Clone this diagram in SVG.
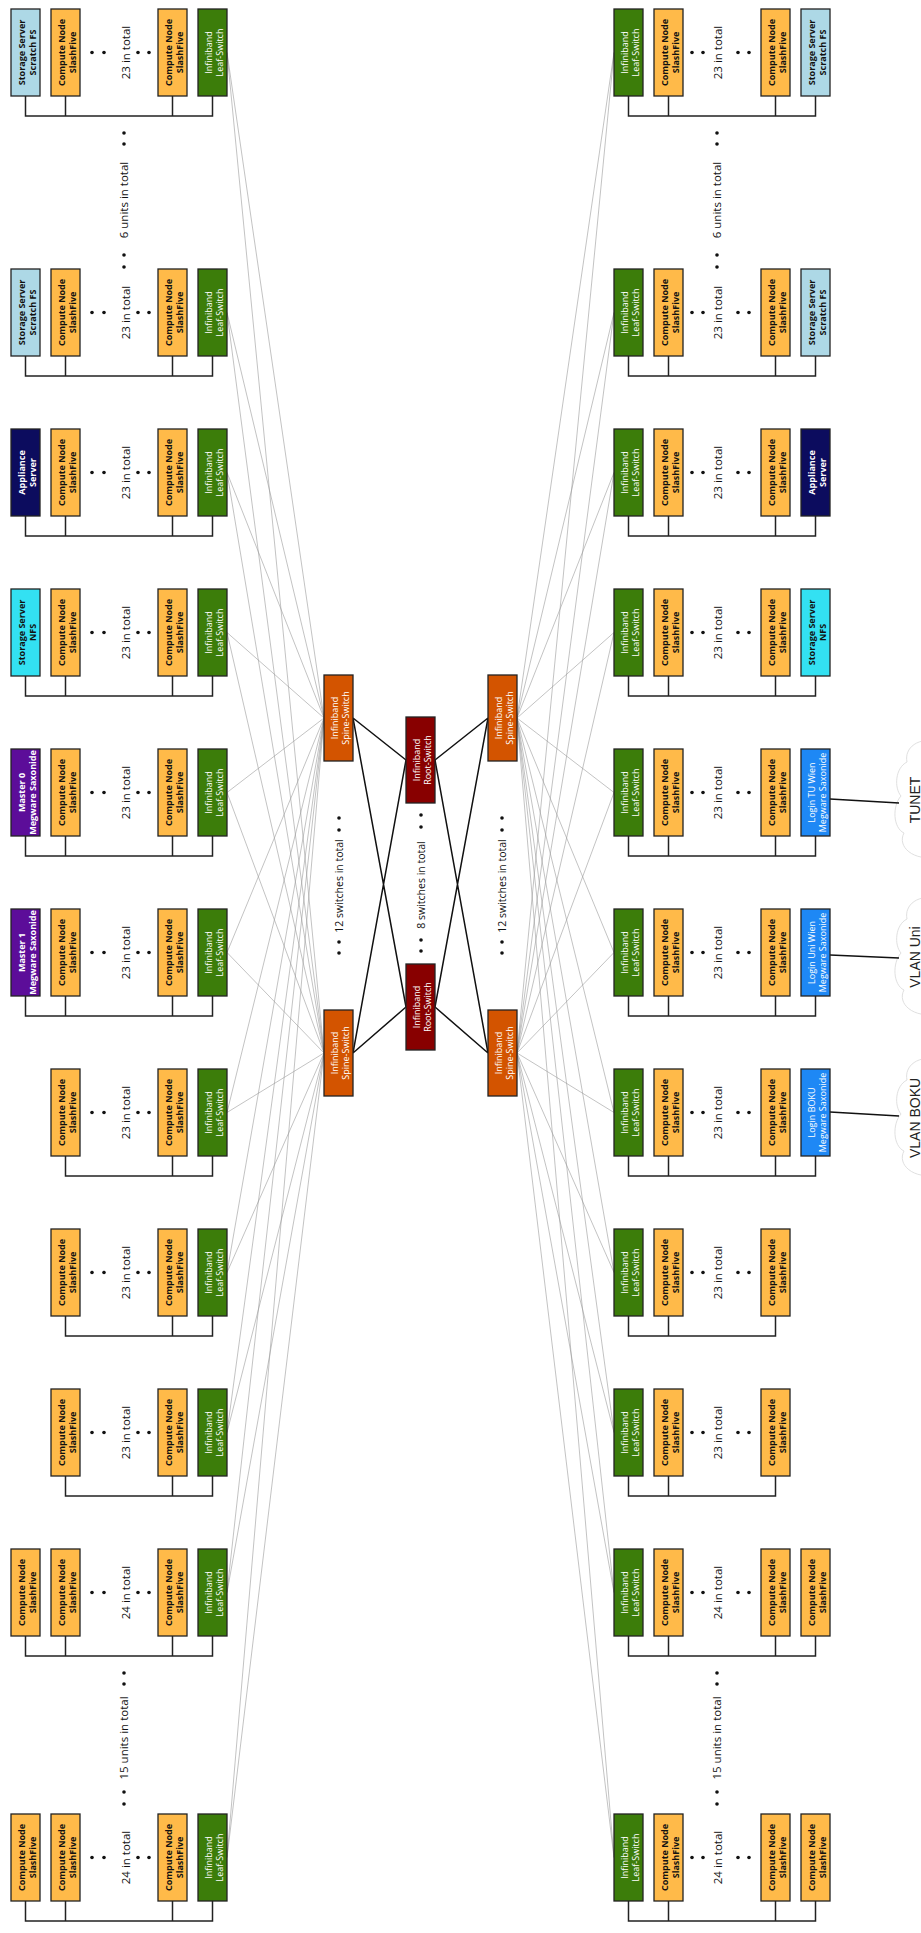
<svg xmlns="http://www.w3.org/2000/svg" xmlns:xlink="http://www.w3.org/1999/xlink" width="921" height="1933" viewBox="0 0 921 1933">
<style>
.b{stroke:#222;stroke-width:1.3}
.t{font-family:"Open Sans","DejaVu Sans",sans-serif;font-size:9px;text-anchor:middle}
.td{fill:#111;font-weight:bold}
.tw{fill:#fff}
.twb{fill:#fff;font-weight:bold}
.lbl{font-family:"Open Sans","DejaVu Sans",sans-serif;font-size:11.5px;text-anchor:middle;fill:#111}
.ml{font-size:10.5px}
.bus{fill:none;stroke:#222;stroke-width:1.5}
.gl{fill:none;stroke:#9a9a9a;stroke-width:0.6}
.bl{fill:none;stroke:#111;stroke-width:1.5}
.cl{font-family:"Liberation Sans",Arial,sans-serif;font-size:14px;text-anchor:middle;fill:#222}
.cloud{fill:#fff;stroke:#e0e0e0;stroke-width:1}
.dot{fill:#111}
</style>
<defs>
<g id="cn"><rect class="b" fill="#FFBA49" width="29" height="87"/><text class="t td" transform="translate(14.5,43.5) rotate(-90)"><tspan x="0" y="-1">Compute Node</tspan><tspan x="0" y="10.5">SlashFive</tspan></text></g>
<g id="lf"><rect class="b" fill="#3C7D0A" width="29" height="87"/><text class="t tw" transform="translate(14.5,43.5) rotate(-90)"><tspan x="0" y="-1">Infiniband</tspan><tspan x="0" y="10.5">Leaf-Switch</tspan></text></g>
<g id="ss"><rect class="b" fill="#ADD8E6" width="29" height="87"/><text class="t td" transform="translate(14.5,43.5) rotate(-90)"><tspan x="0" y="-1">Storage Server</tspan><tspan x="0" y="10.5">Scratch FS</tspan></text></g>
<g id="nfs"><rect class="b" fill="#33E1F2" width="29" height="87"/><text class="t td" transform="translate(14.5,43.5) rotate(-90)"><tspan x="0" y="-1">Storage Server</tspan><tspan x="0" y="10.5">NFS</tspan></text></g>
<g id="ap"><rect class="b" fill="#0C0C5E" width="29" height="87"/><text class="t twb" transform="translate(14.5,43.5) rotate(-90)"><tspan x="0" y="-1">Appliance</tspan><tspan x="0" y="10.5">Server</tspan></text></g>
<g id="sp"><rect class="b" fill="#D35400" width="29" height="86"/><text class="t tw" transform="translate(14.5,43) rotate(-90)"><tspan x="0" y="-1">Infiniband</tspan><tspan x="0" y="10.5">Spine-Switch</tspan></text></g>
<g id="rt"><rect class="b" fill="#880000" width="29" height="86"/><text class="t tw" transform="translate(14.5,43) rotate(-90)"><tspan x="0" y="-1">Infiniband</tspan><tspan x="0" y="10.5">Root-Switch</tspan></text></g>
<g id="dL"><circle class="dot" cx="92" cy="0" r="1.8"/><circle class="dot" cx="104" cy="0" r="1.8"/><circle class="dot" cx="138" cy="0" r="1.8"/><circle class="dot" cx="149" cy="0" r="1.8"/></g>
<g id="dR"><circle class="dot" cx="692" cy="0" r="1.8"/><circle class="dot" cx="703" cy="0" r="1.8"/><circle class="dot" cx="738" cy="0" r="1.8"/><circle class="dot" cx="749" cy="0" r="1.8"/></g>
</defs>
<rect width="921" height="1933" fill="#fff"/>

<g id="connectors">
<path class="gl" d="M227 52.5L324 718M227 52.5L324 1053M227 312.5L324 718M227 312.5L324 1053M227 472.5L324 718M227 472.5L324 1053M227 632.5L324 718M227 632.5L324 1053M227 792.5L324 718M227 792.5L324 1053M227 952.5L324 718M227 952.5L324 1053M227 1112.5L324 718M227 1112.5L324 1053M227 1272.5L324 718M227 1272.5L324 1053M227 1432.5L324 718M227 1432.5L324 1053M227 1592.5L324 718M227 1592.5L324 1053M227 1857.5L324 718M227 1857.5L324 1053"/>
<path class="gl" d="M614 52.5L517 718M614 52.5L517 1053M614 312.5L517 718M614 312.5L517 1053M614 472.5L517 718M614 472.5L517 1053M614 632.5L517 718M614 632.5L517 1053M614 792.5L517 718M614 792.5L517 1053M614 952.5L517 718M614 952.5L517 1053M614 1112.5L517 718M614 1112.5L517 1053M614 1272.5L517 718M614 1272.5L517 1053M614 1432.5L517 718M614 1432.5L517 1053M614 1592.5L517 718M614 1592.5L517 1053M614 1857.5L517 718M614 1857.5L517 1053"/>
<path class="bl" d="M353 718L406 760M353 718L406 1007M353 1053L406 760M353 1053L406 1007M488 718L435 760M488 718L435 1007M488 1053L435 760M488 1053L435 1007"/>
<path class="bus" d="M25.5 96V116H212.5V96M65.5 96V116M172.5 96V116"/>
<path class="bus" d="M25.5 356V376H212.5V356M65.5 356V376M172.5 356V376"/>
<path class="bus" d="M25.5 516V536H212.5V516M65.5 516V536M172.5 516V536"/>
<path class="bus" d="M25.5 676V696H212.5V676M65.5 676V696M172.5 676V696"/>
<path class="bus" d="M25.5 836V856H212.5V836M65.5 836V856M172.5 836V856"/>
<path class="bus" d="M25.5 996V1016H212.5V996M65.5 996V1016M172.5 996V1016"/>
<path class="bus" d="M65.5 1156V1176H212.5V1156M172.5 1156V1176"/>
<path class="bus" d="M65.5 1316V1336H212.5V1316M172.5 1316V1336"/>
<path class="bus" d="M65.5 1476V1496H212.5V1476M172.5 1476V1496"/>
<path class="bus" d="M25.5 1636V1656H212.5V1636M65.5 1636V1656M172.5 1636V1656"/>
<path class="bus" d="M25.5 1901V1921H212.5V1901M65.5 1901V1921M172.5 1901V1921"/>
<path class="bus" d="M628.5 96V116H815.5V96M668.5 96V116M775.5 96V116"/>
<path class="bus" d="M628.5 356V376H815.5V356M668.5 356V376M775.5 356V376"/>
<path class="bus" d="M628.5 516V536H815.5V516M668.5 516V536M775.5 516V536"/>
<path class="bus" d="M628.5 676V696H815.5V676M668.5 676V696M775.5 676V696"/>
<path class="bus" d="M628.5 836V856H815.5V836M668.5 836V856M775.5 836V856"/>
<path class="bus" d="M628.5 996V1016H815.5V996M668.5 996V1016M775.5 996V1016"/>
<path class="bus" d="M628.5 1156V1176H815.5V1156M668.5 1156V1176M775.5 1156V1176"/>
<path class="bus" d="M628.5 1316V1336H775.5V1316M668.5 1316V1336"/>
<path class="bus" d="M628.5 1476V1496H775.5V1476M668.5 1476V1496"/>
<path class="bus" d="M628.5 1636V1656H815.5V1636M668.5 1636V1656M775.5 1636V1656"/>
<path class="bus" d="M628.5 1901V1921H815.5V1901M668.5 1901V1921M775.5 1901V1921"/>
</g>

<g id="clouds">
<g id="cloud-tunet"><path class="cloud" d="M940 742C918 736 904 748 907 762C895 768 894 788 901 796C892 806 893 828 904 833C897 846 912 862 940 857Z"/><text class="cl" transform="translate(915,800) rotate(-90)" y="5">TUNET</text></g>
<g id="cloud-vlanuni"><path class="cloud" d="M940 899C918 893 904 905 907 919C895 925 894 945 901 953C892 963 893 985 904 990C897 1003 912 1019 940 1014Z"/><text class="cl" transform="translate(915,957) rotate(-90)" y="5">VLAN Uni</text></g>
<g id="cloud-vlanboku"><path class="cloud" d="M940 1060C918 1054 904 1066 907 1080C895 1086 894 1106 901 1114C892 1124 893 1146 904 1151C897 1164 912 1180 940 1175Z"/><text class="cl" transform="translate(915,1118) rotate(-90)" y="5">VLAN BOKU</text></g>
</g>
<g id="login-links">
<path class="bl" d="M830 799L899 803M830 955L899 958M830 1112L899 1116"/>
</g>

<g id="spine-root">
<g id="spine-lu"><use xlink:href="#sp" x="324" y="675"/></g>
<g id="spine-ll"><use xlink:href="#sp" x="324" y="1010"/></g>
<g id="spine-ru"><use xlink:href="#sp" x="488" y="675"/></g>
<g id="spine-rl"><use xlink:href="#sp" x="488" y="1010"/></g>
<g id="root-u"><use xlink:href="#rt" x="406" y="717"/></g>
<g id="root-l"><use xlink:href="#rt" x="406" y="964"/></g>
</g>

<g id="middle-labels">
<text class="lbl ml" transform="translate(339,886) rotate(-90)" y="4">12 switches in total</text>
<text class="lbl ml" transform="translate(421,885) rotate(-90)" y="4">8 switches in total</text>
<text class="lbl ml" transform="translate(502,886) rotate(-90)" y="4">12 switches in total</text>
<circle class="dot" cx="339" cy="818" r="1.8"/><circle class="dot" cx="339" cy="830" r="1.8"/><circle class="dot" cx="339" cy="942" r="1.8"/><circle class="dot" cx="339" cy="953" r="1.8"/>
<circle class="dot" cx="421" cy="815" r="1.8"/><circle class="dot" cx="421" cy="827" r="1.8"/><circle class="dot" cx="421" cy="940" r="1.8"/><circle class="dot" cx="421" cy="951" r="1.8"/>
<circle class="dot" cx="502" cy="818" r="1.8"/><circle class="dot" cx="502" cy="830" r="1.8"/><circle class="dot" cx="502" cy="942" r="1.8"/><circle class="dot" cx="502" cy="953" r="1.8"/>
</g>

<g id="unit-labels">
<text class="lbl" transform="translate(124,200) rotate(-90)" y="4">6 units in total</text>
<circle class="dot" cx="124" cy="133" r="1.8"/><circle class="dot" cx="124" cy="144" r="1.8"/><circle class="dot" cx="124" cy="255" r="1.8"/><circle class="dot" cx="124" cy="267" r="1.8"/>
<text class="lbl" transform="translate(717,200) rotate(-90)" y="4">6 units in total</text>
<circle class="dot" cx="717" cy="133" r="1.8"/><circle class="dot" cx="717" cy="144" r="1.8"/><circle class="dot" cx="717" cy="255" r="1.8"/><circle class="dot" cx="717" cy="267" r="1.8"/>
<text class="lbl" transform="translate(124,1738) rotate(-90)" y="4">15 units in total</text>
<circle class="dot" cx="124" cy="1673" r="1.8"/><circle class="dot" cx="124" cy="1684" r="1.8"/><circle class="dot" cx="124" cy="1792" r="1.8"/><circle class="dot" cx="124" cy="1804" r="1.8"/>
<text class="lbl" transform="translate(717,1738) rotate(-90)" y="4">15 units in total</text>
<circle class="dot" cx="717" cy="1673" r="1.8"/><circle class="dot" cx="717" cy="1684" r="1.8"/><circle class="dot" cx="717" cy="1792" r="1.8"/><circle class="dot" cx="717" cy="1804" r="1.8"/>
</g>

<g id="left-side">
<g id="L1"><g id="L1-a"><use xlink:href="#ss" x="11" y="9"/></g><g id="L1-b"><use xlink:href="#cn" x="51" y="9"/></g><g id="L1-c"><use xlink:href="#cn" x="158" y="9"/></g><g id="L1-leaf"><use xlink:href="#lf" x="198" y="9"/></g><use xlink:href="#dL" y="52.5"/><text class="lbl" transform="translate(125,52.5) rotate(-90)" y="5">23 in total</text></g>
<g id="L2"><g id="L2-a"><use xlink:href="#ss" x="11" y="269"/></g><g id="L2-b"><use xlink:href="#cn" x="51" y="269"/></g><g id="L2-c"><use xlink:href="#cn" x="158" y="269"/></g><g id="L2-leaf"><use xlink:href="#lf" x="198" y="269"/></g><use xlink:href="#dL" y="312.5"/><text class="lbl" transform="translate(125,312.5) rotate(-90)" y="5">23 in total</text></g>
<g id="L3"><g id="L3-a"><use xlink:href="#ap" x="11" y="429"/></g><g id="L3-b"><use xlink:href="#cn" x="51" y="429"/></g><g id="L3-c"><use xlink:href="#cn" x="158" y="429"/></g><g id="L3-leaf"><use xlink:href="#lf" x="198" y="429"/></g><use xlink:href="#dL" y="472.5"/><text class="lbl" transform="translate(125,472.5) rotate(-90)" y="5">23 in total</text></g>
<g id="L4"><g id="L4-a"><use xlink:href="#nfs" x="11" y="589"/></g><g id="L4-b"><use xlink:href="#cn" x="51" y="589"/></g><g id="L4-c"><use xlink:href="#cn" x="158" y="589"/></g><g id="L4-leaf"><use xlink:href="#lf" x="198" y="589"/></g><use xlink:href="#dL" y="632.5"/><text class="lbl" transform="translate(125,632.5) rotate(-90)" y="5">23 in total</text></g>
<g id="L5"><g id="L5-a"><rect class="b" fill="#5C0D99" x="11" y="749" width="29" height="87"/><text class="t twb" transform="translate(25.5,792.5) rotate(-90)"><tspan x="0" y="-1">Master 0</tspan><tspan x="0" y="10.5">Megware Saxonide</tspan></text></g><g id="L5-b"><use xlink:href="#cn" x="51" y="749"/></g><g id="L5-c"><use xlink:href="#cn" x="158" y="749"/></g><g id="L5-leaf"><use xlink:href="#lf" x="198" y="749"/></g><use xlink:href="#dL" y="792.5"/><text class="lbl" transform="translate(125,792.5) rotate(-90)" y="5">23 in total</text></g>
<g id="L6"><g id="L6-a"><rect class="b" fill="#5C0D99" x="11" y="909" width="29" height="87"/><text class="t twb" transform="translate(25.5,952.5) rotate(-90)"><tspan x="0" y="-1">Master 1</tspan><tspan x="0" y="10.5">Megware Saxonide</tspan></text></g><g id="L6-b"><use xlink:href="#cn" x="51" y="909"/></g><g id="L6-c"><use xlink:href="#cn" x="158" y="909"/></g><g id="L6-leaf"><use xlink:href="#lf" x="198" y="909"/></g><use xlink:href="#dL" y="952.5"/><text class="lbl" transform="translate(125,952.5) rotate(-90)" y="5">23 in total</text></g>
<g id="L7"><g id="L7-b"><use xlink:href="#cn" x="51" y="1069"/></g><g id="L7-c"><use xlink:href="#cn" x="158" y="1069"/></g><g id="L7-leaf"><use xlink:href="#lf" x="198" y="1069"/></g><use xlink:href="#dL" y="1112.5"/><text class="lbl" transform="translate(125,1112.5) rotate(-90)" y="5">23 in total</text></g>
<g id="L8"><g id="L8-b"><use xlink:href="#cn" x="51" y="1229"/></g><g id="L8-c"><use xlink:href="#cn" x="158" y="1229"/></g><g id="L8-leaf"><use xlink:href="#lf" x="198" y="1229"/></g><use xlink:href="#dL" y="1272.5"/><text class="lbl" transform="translate(125,1272.5) rotate(-90)" y="5">23 in total</text></g>
<g id="L9"><g id="L9-b"><use xlink:href="#cn" x="51" y="1389"/></g><g id="L9-c"><use xlink:href="#cn" x="158" y="1389"/></g><g id="L9-leaf"><use xlink:href="#lf" x="198" y="1389"/></g><use xlink:href="#dL" y="1432.5"/><text class="lbl" transform="translate(125,1432.5) rotate(-90)" y="5">23 in total</text></g>
<g id="L10"><g id="L10-a"><use xlink:href="#cn" x="11" y="1549"/></g><g id="L10-b"><use xlink:href="#cn" x="51" y="1549"/></g><g id="L10-c"><use xlink:href="#cn" x="158" y="1549"/></g><g id="L10-leaf"><use xlink:href="#lf" x="198" y="1549"/></g><use xlink:href="#dL" y="1592.5"/><text class="lbl" transform="translate(125,1592.5) rotate(-90)" y="5">24 in total</text></g>
<g id="L11"><g id="L11-a"><use xlink:href="#cn" x="11" y="1814"/></g><g id="L11-b"><use xlink:href="#cn" x="51" y="1814"/></g><g id="L11-c"><use xlink:href="#cn" x="158" y="1814"/></g><g id="L11-leaf"><use xlink:href="#lf" x="198" y="1814"/></g><use xlink:href="#dL" y="1857.5"/><text class="lbl" transform="translate(125,1857.5) rotate(-90)" y="5">24 in total</text></g>
</g>

<g id="right-side">
<g id="R1"><g id="R1-leaf"><use xlink:href="#lf" x="614" y="9"/></g><g id="R1-b"><use xlink:href="#cn" x="654" y="9"/></g><g id="R1-c"><use xlink:href="#cn" x="761" y="9"/></g><g id="R1-a"><use xlink:href="#ss" x="801" y="9"/></g><use xlink:href="#dR" y="52.5"/><text class="lbl" transform="translate(717,52.5) rotate(-90)" y="5">23 in total</text></g>
<g id="R2"><g id="R2-leaf"><use xlink:href="#lf" x="614" y="269"/></g><g id="R2-b"><use xlink:href="#cn" x="654" y="269"/></g><g id="R2-c"><use xlink:href="#cn" x="761" y="269"/></g><g id="R2-a"><use xlink:href="#ss" x="801" y="269"/></g><use xlink:href="#dR" y="312.5"/><text class="lbl" transform="translate(717,312.5) rotate(-90)" y="5">23 in total</text></g>
<g id="R3"><g id="R3-leaf"><use xlink:href="#lf" x="614" y="429"/></g><g id="R3-b"><use xlink:href="#cn" x="654" y="429"/></g><g id="R3-c"><use xlink:href="#cn" x="761" y="429"/></g><g id="R3-a"><use xlink:href="#ap" x="801" y="429"/></g><use xlink:href="#dR" y="472.5"/><text class="lbl" transform="translate(717,472.5) rotate(-90)" y="5">23 in total</text></g>
<g id="R4"><g id="R4-leaf"><use xlink:href="#lf" x="614" y="589"/></g><g id="R4-b"><use xlink:href="#cn" x="654" y="589"/></g><g id="R4-c"><use xlink:href="#cn" x="761" y="589"/></g><g id="R4-a"><use xlink:href="#nfs" x="801" y="589"/></g><use xlink:href="#dR" y="632.5"/><text class="lbl" transform="translate(717,632.5) rotate(-90)" y="5">23 in total</text></g>
<g id="R5"><g id="R5-leaf"><use xlink:href="#lf" x="614" y="749"/></g><g id="R5-b"><use xlink:href="#cn" x="654" y="749"/></g><g id="R5-c"><use xlink:href="#cn" x="761" y="749"/></g><g id="R5-login"><rect class="b" fill="#1E88F5" x="801" y="749" width="29" height="87"/><text class="t tw" transform="translate(815.5,792.5) rotate(-90)"><tspan x="0" y="-1">Login TU Wien</tspan><tspan x="0" y="10.5">Megware Saxonide</tspan></text></g><use xlink:href="#dR" y="792.5"/><text class="lbl" transform="translate(717,792.5) rotate(-90)" y="5">23 in total</text></g>
<g id="R6"><g id="R6-leaf"><use xlink:href="#lf" x="614" y="909"/></g><g id="R6-b"><use xlink:href="#cn" x="654" y="909"/></g><g id="R6-c"><use xlink:href="#cn" x="761" y="909"/></g><g id="R6-login"><rect class="b" fill="#1E88F5" x="801" y="909" width="29" height="87"/><text class="t tw" transform="translate(815.5,952.5) rotate(-90)"><tspan x="0" y="-1">Login Uni Wien</tspan><tspan x="0" y="10.5">Megware Saxonide</tspan></text></g><use xlink:href="#dR" y="952.5"/><text class="lbl" transform="translate(717,952.5) rotate(-90)" y="5">23 in total</text></g>
<g id="R7"><g id="R7-leaf"><use xlink:href="#lf" x="614" y="1069"/></g><g id="R7-b"><use xlink:href="#cn" x="654" y="1069"/></g><g id="R7-c"><use xlink:href="#cn" x="761" y="1069"/></g><g id="R7-login"><rect class="b" fill="#1E88F5" x="801" y="1069" width="29" height="87"/><text class="t tw" transform="translate(815.5,1112.5) rotate(-90)"><tspan x="0" y="-1">Login BOKU</tspan><tspan x="0" y="10.5">Megware Saxonide</tspan></text></g><use xlink:href="#dR" y="1112.5"/><text class="lbl" transform="translate(717,1112.5) rotate(-90)" y="5">23 in total</text></g>
<g id="R8"><g id="R8-leaf"><use xlink:href="#lf" x="614" y="1229"/></g><g id="R8-b"><use xlink:href="#cn" x="654" y="1229"/></g><g id="R8-c"><use xlink:href="#cn" x="761" y="1229"/></g><use xlink:href="#dR" y="1272.5"/><text class="lbl" transform="translate(717,1272.5) rotate(-90)" y="5">23 in total</text></g>
<g id="R9"><g id="R9-leaf"><use xlink:href="#lf" x="614" y="1389"/></g><g id="R9-b"><use xlink:href="#cn" x="654" y="1389"/></g><g id="R9-c"><use xlink:href="#cn" x="761" y="1389"/></g><use xlink:href="#dR" y="1432.5"/><text class="lbl" transform="translate(717,1432.5) rotate(-90)" y="5">23 in total</text></g>
<g id="R10"><g id="R10-leaf"><use xlink:href="#lf" x="614" y="1549"/></g><g id="R10-b"><use xlink:href="#cn" x="654" y="1549"/></g><g id="R10-c"><use xlink:href="#cn" x="761" y="1549"/></g><g id="R10-a"><use xlink:href="#cn" x="801" y="1549"/></g><use xlink:href="#dR" y="1592.5"/><text class="lbl" transform="translate(717,1592.5) rotate(-90)" y="5">24 in total</text></g>
<g id="R11"><g id="R11-leaf"><use xlink:href="#lf" x="614" y="1814"/></g><g id="R11-b"><use xlink:href="#cn" x="654" y="1814"/></g><g id="R11-c"><use xlink:href="#cn" x="761" y="1814"/></g><g id="R11-a"><use xlink:href="#cn" x="801" y="1814"/></g><use xlink:href="#dR" y="1857.5"/><text class="lbl" transform="translate(717,1857.5) rotate(-90)" y="5">24 in total</text></g>
</g>
</svg>
